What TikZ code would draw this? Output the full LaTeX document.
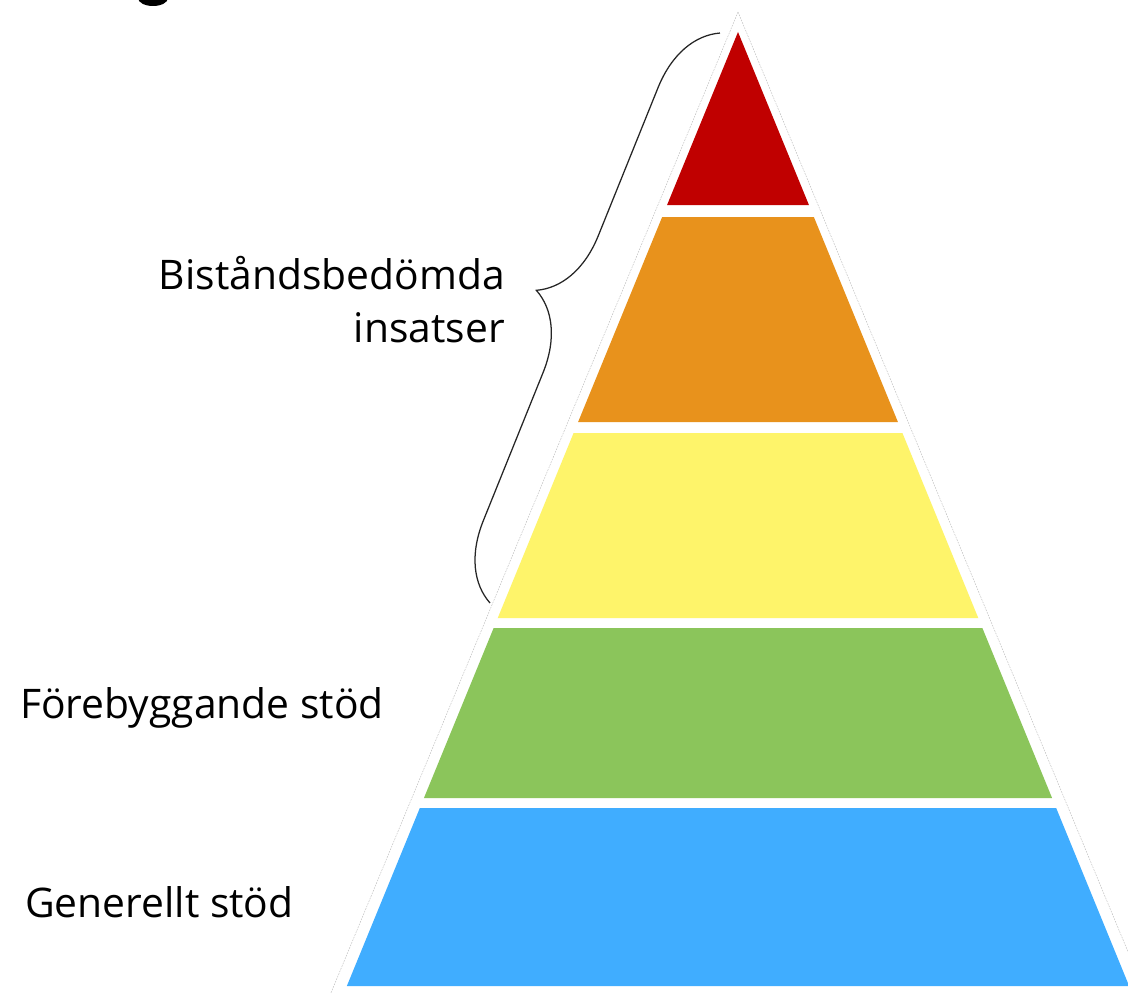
\documentclass[tikz,border=0pt]{standalone}
\usepackage{fontspec}
\setmainfont{Open Sans}
\usepackage{tikz}
\usetikzlibrary{decorations.pathreplacing}
\definecolor{TopRed}{HTML}{C00000}
\definecolor{MidOrange}{HTML}{E8921C}
\definecolor{MidYellow}{HTML}{FEF46A}
\definecolor{LowGreen}{HTML}{8BC55B}
\definecolor{BaseBlue}{HTML}{40ADFF}
\begin{document}
\begin{tikzpicture}[x=0.025cm,y=-0.025cm,
  lab/.style={font=\fontsize{29}{35}\selectfont,inner sep=0pt},
  rim/.style={draw=gray!55,line width=0.3pt,dash pattern=on 1.2pt off 0.8pt},
  brc/.style={draw=black!85,line width=0.9pt,decorate,
    decoration={brace,amplitude=1.85cm,aspect=0.5}}]
\clip (0,0) rectangle (1128,992);
% cut-off title letter at the top
\fill[black] (153,-2) ellipse [x radius=15,y radius=8];
% outline of the pyramid
\filldraw[fill=white,rim] (738,12) -- (738-0.415*1100,1112) -- (738+0.415*1100,1112) -- cycle;
% the five layers
\foreach \ytop/\ybot/\col in {32/205/TopRed,217/422/MidOrange,433/618/MidYellow,628/798/LowGreen,808/986/BaseBlue}{
  \fill[\col] (738-0.41*\ytop+0.41*32,\ytop) -- (738+0.41*\ytop-0.41*32,\ytop)
    -- (738+0.41*\ybot-0.41*32,\ybot) -- (738-0.41*\ybot+0.41*32,\ybot) -- cycle;
}
\coordinate (braceLow) at (490,603);
\coordinate (braceTop) at (720,33);
\draw[brc] (braceLow) -- (braceTop);
\node[lab,anchor=base east] (bist) at (505,289) {Biståndsbedömda};
\node[lab,anchor=base east] (insats) at (505,342) {insatser};
\node[lab,anchor=base west] (forebyg) at (20,718) {Förebyggande stöd};
\node[lab,anchor=base west] (generellt) at (25,917) {Generellt stöd};
\end{tikzpicture}
\end{document}
